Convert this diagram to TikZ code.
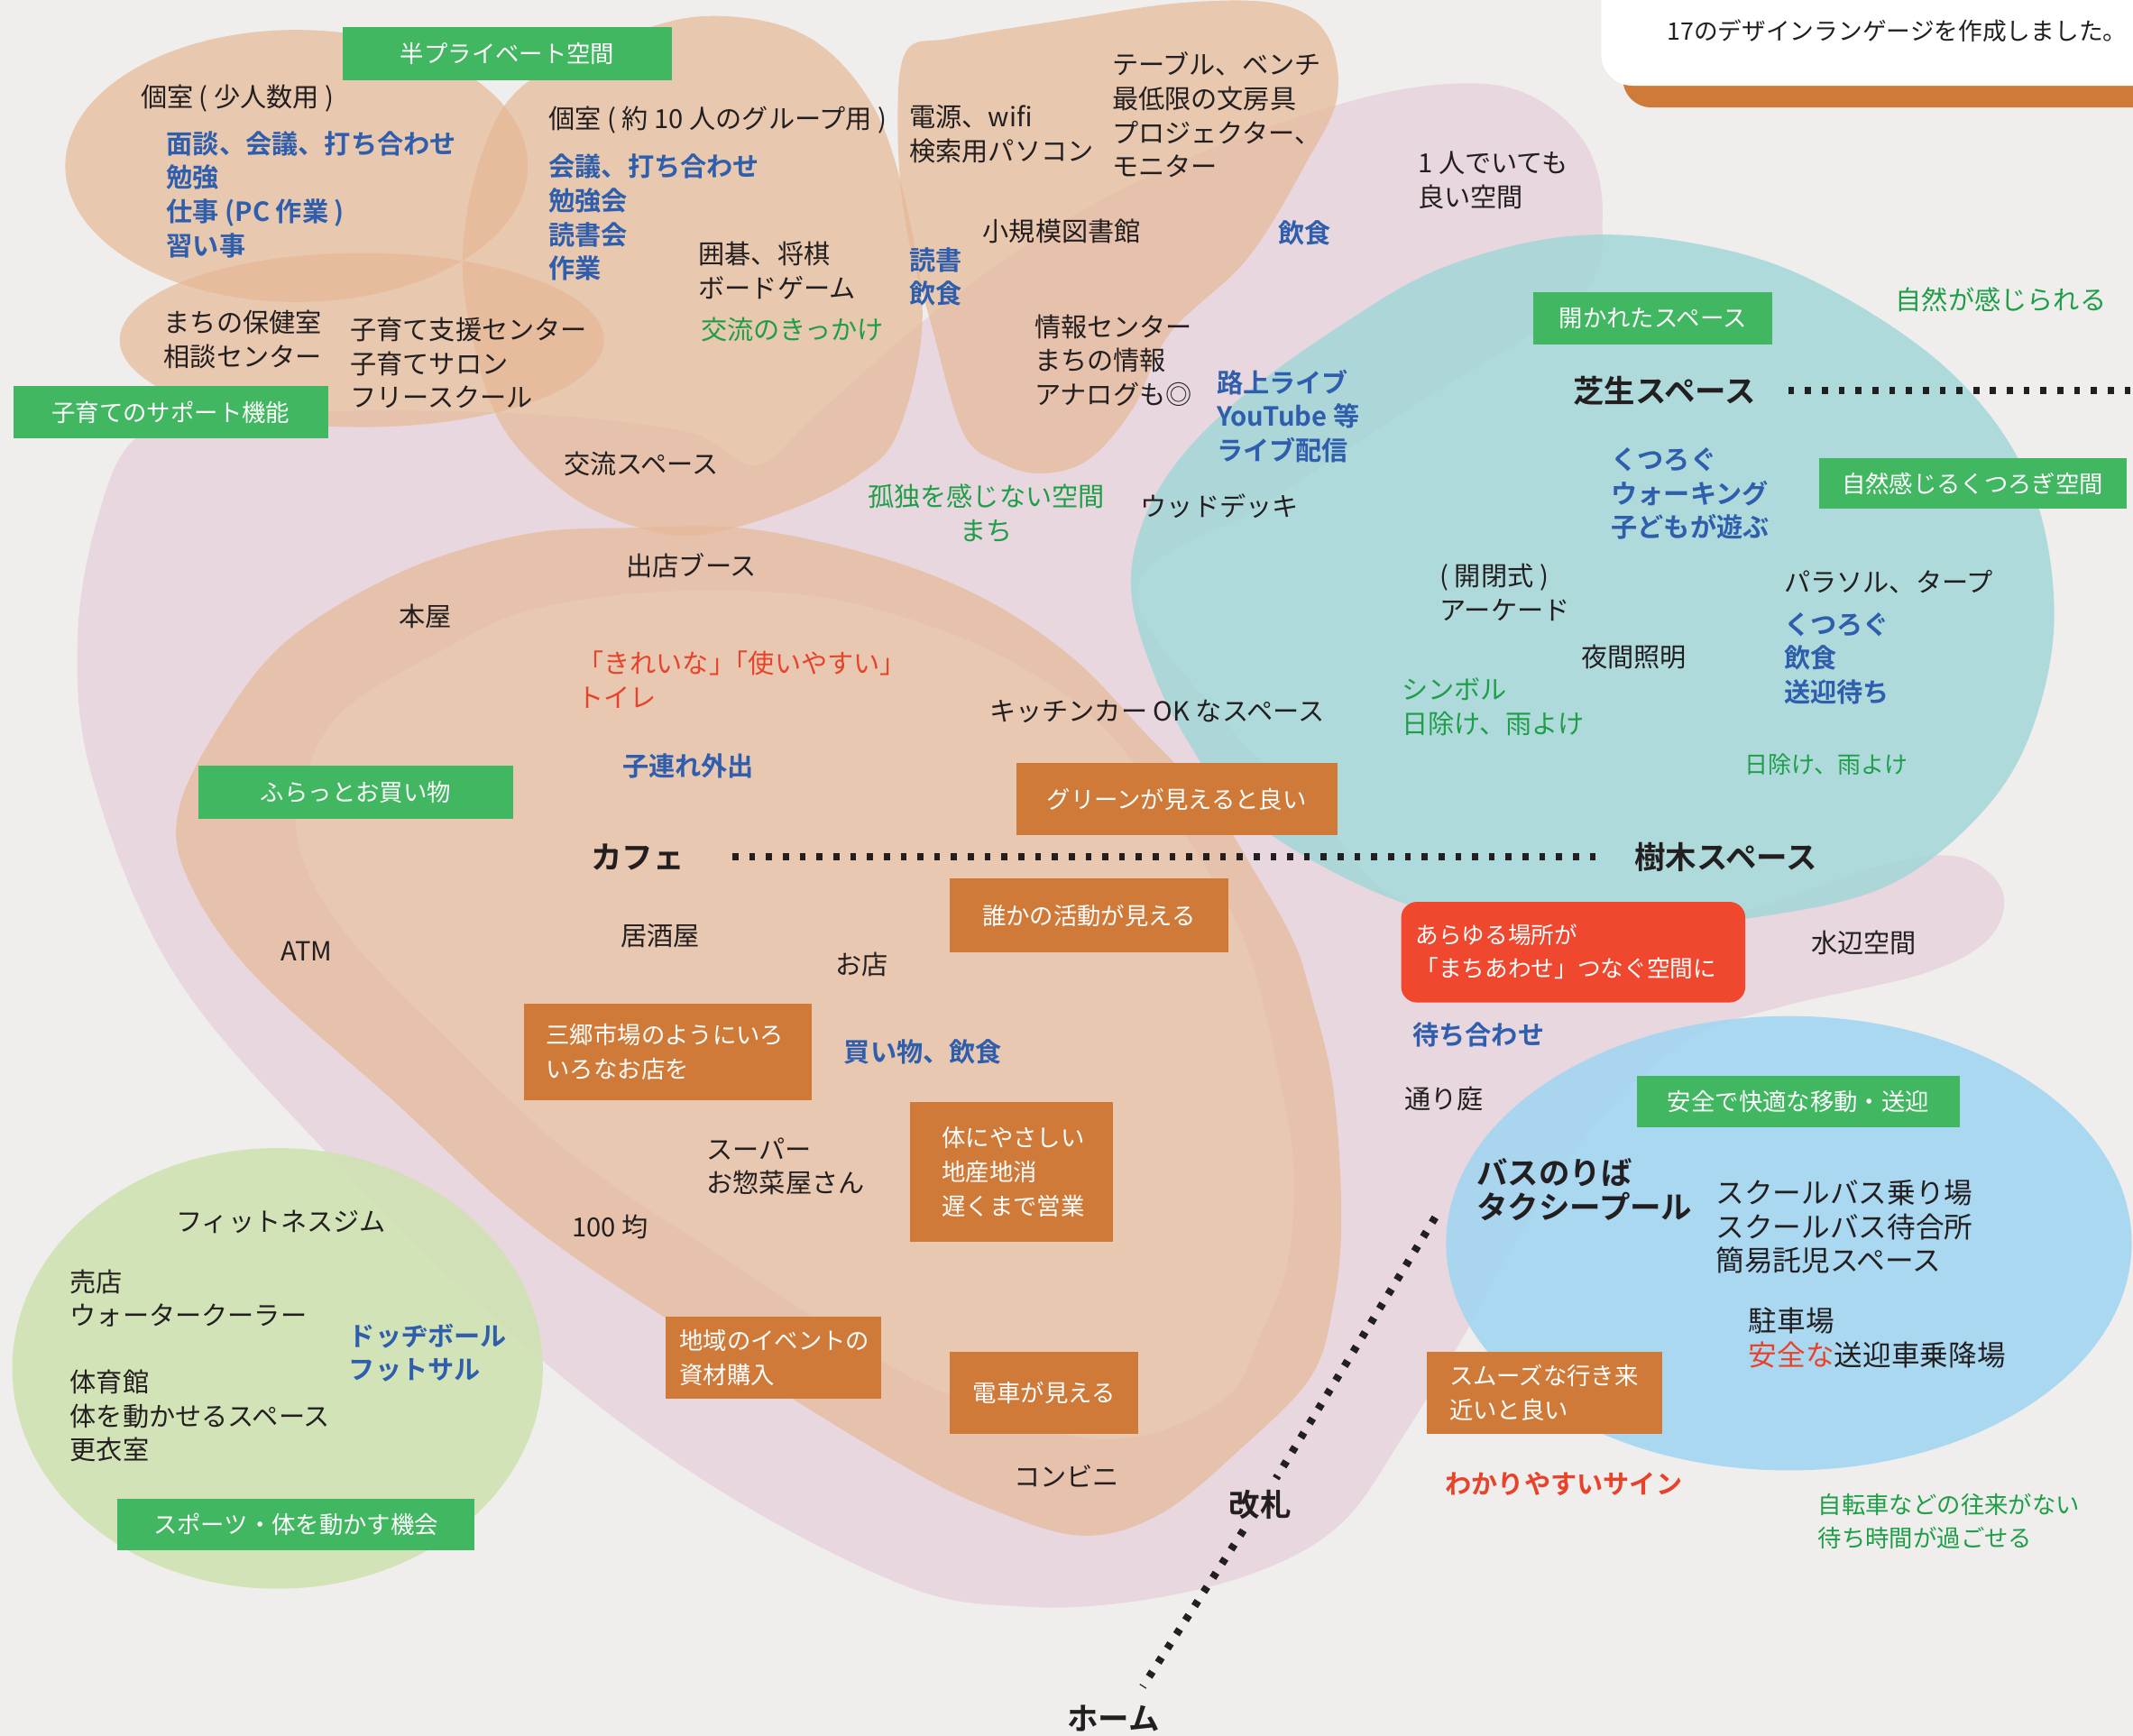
\documentclass[tikz,border=0pt]{standalone}
\usepackage{fontspec}
\setmainfont{Noto Sans CJK JP}[BoldFont={Noto Sans CJK JP Bold}]
\usetikzlibrary{calc}
\definecolor{bgcol}{HTML}{EFEEEC}
\definecolor{pinkfill}{HTML}{E8D7DF}
\definecolor{orangefill}{HTML}{E6B896}
\definecolor{orangeinner}{HTML}{E9C8B1}
\definecolor{tealfill}{HTML}{9FD6D8}
\definecolor{bluefill}{HTML}{9FD5F2}
\definecolor{limefill}{HTML}{CFE2B0}
\definecolor{boxgreen}{HTML}{40B760}
\definecolor{boxorange}{HTML}{D07A3A}
\definecolor{boxred}{HTML}{EF482F}
\definecolor{ink}{HTML}{231F20}
\definecolor{bluetxt}{HTML}{2F5EAD}
\definecolor{greentxt}{HTML}{1F9E48}
\definecolor{redtxt}{HTML}{E8432A}
\tikzset{
  lbl/.style={anchor=west, inner sep=0pt, align=left, text=ink, font=\fontsize{8.3}{10.7}\selectfont},
  blu/.style={lbl, text=bluetxt, font=\fontsize{8.3}{10.7}\selectfont\bfseries},
  grn/.style={lbl, text=greentxt},
  redlbl/.style={lbl, text=redtxt},
  head/.style={lbl, font=\fontsize{9.8}{10.7}\selectfont\bfseries},
  boxtext/.style={inner sep=0pt, align=left, text=white, font=\fontsize{7.5}{10.7}\selectfont},
  dotline/.style={ink, line width=2.4pt, dash pattern=on 1.9pt off 3.4pt},
  blob/.style={fill=orangefill, fill opacity=0.7}
}
\newcommand{\gcell}[6]{\fill[boxgreen] ( #1 , #2 ) rectangle ( #3 , #4 ); \node[boxtext] (#5) at ($( #1 , #2 )!0.5!( #3 , #4 )$) {#6};}
\newcommand{\ocell}[6]{\fill[boxorange] ( #1 , #2 ) rectangle ( #3 , #4 ); \node[boxtext] (#5) at ($( #1 , #2 )!0.5!( #3 , #4 )$) {#6};}
\newcommand{\ocellL}[7]{\fill[boxorange] ( #1 , #2 ) rectangle ( #3 , #4 ); \node[boxtext, anchor=west] (#5) at ( #6 , {(#2+#4)/2} ) {#7};}
\begin{document}
\begin{tikzpicture}[x=0.015083cm, y=-0.015083cm]
        \useasboundingbox (0,0) rectangle (1568,1276);
        \fill[bgcol] (0,0) rectangle (1568,1276);

        % pink town area
        \fill[pinkfill] plot[smooth cycle, tension=0.6] coordinates {
          (100,322) (160,308) (260,302) (400,305) (507,318) (556,342) (600,305)
          (680,235) (770,170) (870,118) (980,78) (1060,62) (1120,68) (1165,105)
          (1178,160) (1160,220) (1040,298) (929,371) (836,432) (900,530) (970,600)
          (1030,662) (1150,690) (1270,673) (1380,637) (1440,630) (1472,655)
          (1462,690) (1413,716) (1310,740) (1240,765) (1170,830) (1110,920)
          (1079,977) (1032,1055) (986,1120) (923,1156) (836,1177) (750,1181)
          (663,1165) (520,1090) (381,985) (237,844) (127,714) (68,572) (57,470) (72,380)};

        % shopping area
        \fill[blob] plot[smooth cycle, tension=0.6] coordinates {
          (465,388) (552,389) (651,411) (727,442) (790,485) (841,538) (890,590)
          (923,642) (950,690) (963,729) (980,800) (986,895) (980,960) (963,1013)
          (911,1066) (853,1113) (796,1129) (730,1110) (663,1077) (530,995)
          (393,903) (290,810) (186,716) (139,648) (131,597) (161,534) (211,471)
          (296,420) (385,393)};
        \fill[orangeinner] plot[smooth cycle, tension=0.6] coordinates {
          (528,434) (610,440) (689,462) (750,490) (803,527) (845,575) (879,626)
          (905,670) (923,716) (940,790) (951,859) (946,930) (925,985) (905,1024)
          (853,1052) (796,1057) (730,1035) (663,1009) (540,930) (423,851)
          (330,765) (254,686) (220,623) (224,572) (254,521) (338,471) (385,450) (450,438)};

        % rooms
        \fill[blob] (218,122) ellipse [x radius=170, y radius=100];
        \fill[blob] (266,250) ellipse [x radius=178, y radius=64];
        \fill[blob] plot[smooth cycle, tension=0.6] coordinates {
          (340,192) (350,260) (372,318) (420,365) (470,388) (516,393) (580,375)
          (630,350) (660,318) (678,237) (666,150) (640,75) (590,25) (516,12)
          (444,33) (381,66) (352,120)};
        \fill[blob] plot[smooth cycle, tension=0.6] coordinates {
          (666,38) (660,95) (666,166) (685,240) (708,318) (735,340) (765,348)
          (800,338) (833,300) (860,245) (917,190) (960,120) (983,71) (975,25)
          (940,3) (870,2) (780,15) (700,28)};

        % lawn
        \fill[tealfill, fill opacity=0.8] plot[smooth cycle, tension=0.6] coordinates {
          (1150,174) (1060,197) (989,237) (915,290) (865,340) (838,390) (832,440)
          (850,500) (875,548) (905,590) (960,630) (1032,664) (1100,678) (1200,681)
          (1300,673) (1390,650) (1459,595) (1496,530) (1510,445) (1490,350)
          (1430,270) (1330,205) (1240,178)};
        % bus
        \fill[bluefill, fill opacity=0.85] (1315,914) ellipse [x radius=252, y radius=167];
        % sports
        \fill[limefill, fill opacity=0.85] (204,1006) ellipse [x radius=195, y radius=162];

        % note box
        \fill[boxorange, rounded corners=9pt] (1193,-40) rectangle (1600,79);
        \fill[white, rounded corners=10pt] (1177,-40) rectangle (1600,63);
        \node[lbl, font=\fontsize{7.6}{10}\selectfont] (designLang) at (1225,23) {17のデザインランゲージを作成しました。};

        % green labels
        \gcell{252}{20}{494}{59}{semiPrivate}{半プライベート空間}
        \gcell{10}{284}{241}{322}{kosodateSupport}{子育てのサポート機能}
        \gcell{1127}{215}{1303}{253}{hirakareta}{開かれたスペース}
        \gcell{1337}{337}{1563}{374}{shizenKutsurogi}{自然感じるくつろぎ空間}
        \gcell{146}{563}{377}{602}{furatto}{ふらっとお買い物}
        \gcell{86}{1102}{349}{1140}{sports}{スポーツ・体を動かす機会}
        \gcell{1203}{791}{1441}{829}{anzen}{安全で快適な移動・送迎}

        % orange labels
        \ocell{747}{561}{983}{614}{greenMieru}{グリーンが見えると良い}
        \ocell{698}{646}{903}{700}{katsudo}{誰かの活動が見える}
        \ocellL{385}{738}{597}{809}{misato}{401}{三郷市場のようにいろ\\いろなお店を}
        \ocellL{669}{810}{818}{913}{karada}{692}{体にやさしい\\地産地消\\遅くまで営業}
        \ocellL{489}{968}{648}{1028}{chiiki}{499}{地域のイベントの\\資材購入}
        \ocell{698}{994}{837}{1054}{densha}{電車が見える}
        \ocellL{1049}{994}{1222}{1054}{smooth}{1065}{スムーズな行き来\\近いと良い}

        % red label
        \fill[boxred, rounded corners=5pt] (1030,663) rectangle (1283,737);
        \node[boxtext, anchor=west, font=\fontsize{7.3}{10.7}\selectfont] (machiawaseBox) at (1040,699.5) {あらゆる場所が\\「まちあわせ」つなぐ空間に};

        % places
        \node[lbl] (koshitsuSmall) at (103,72) {個室 ( 少人数用 )};
        \node[lbl] (koshitsuGroup) at (403,88) {個室 ( 約 10 人のグループ用 )};
        \node[lbl] (dengen) at (668,98.5) {電源、wifi\\検索用パソコン};
        \node[lbl] (table) at (817,84.5) {テーブル、ベンチ\\最低限の文房具\\プロジェクター、\\モニター};
        \node[lbl] (hitori) at (1042,132.5) {1 人でいても\\良い空間};
        \node[lbl] (toshokan) at (722,170) {小規模図書館};
        \node[lbl] (igo) at (513,199) {囲碁、将棋\\ボードゲーム};
        \node[lbl] (joho) at (760,265) {情報センター\\まちの情報\\アナログも◎};
        \node[lbl] (hokenshitsu) at (120,249.5) {まちの保健室\\相談センター};
        \node[lbl] (kosodate) at (257,267) {子育て支援センター\\子育てサロン\\フリースクール};
        \node[lbl] (koryu) at (414,341) {交流スペース};
        \node[lbl] (wooddeck) at (838,372) {ウッドデッキ};
        \node[lbl] (shutten) at (460,416) {出店ブース};
        \node[lbl] (honya) at (293,453) {本屋};
        \node[lbl] (kitchen) at (727,523) {キッチンカー OK なスペース};
        \node[lbl] (arcade) at (1058,435.5) {( 開閉式 )\\アーケード};
        \node[lbl] (parasol) at (1311,428) {パラソル、タープ};
        \node[lbl] (yakan) at (1162,483) {夜間照明};
        \node[lbl] (atm) at (206,699) {ATM};
        \node[lbl] (izakaya) at (456,688) {居酒屋};
        \node[lbl] (omise) at (614,709) {お店};
        \node[lbl] (mizube) at (1331,693) {水辺空間};
        \node[lbl] (toriniwa) at (1032,808) {通り庭};
        \node[lbl] (super) at (519,857.5) {スーパー\\お惣菜屋さん};
        \node[lbl] (hyakkin) at (420,902) {100 均};
        \node[lbl] (fitness) at (129,898) {フィットネスジム};
        \node[lbl] (baiten) at (51,954.5) {売店\\ウォータークーラー};
        \node[lbl] (taiikukan) at (51,1041) {体育館\\体を動かせるスペース\\更衣室};
        \node[lbl, font=\fontsize{9}{10.7}\selectfont] (schoolbus) at (1261,902) {スクールバス乗り場\\スクールバス待合所\\簡易託児スペース};
        \node[lbl, font=\fontsize{9}{10.7}\selectfont] (chushajo) at (1285,983.5) {駐車場\\{\color{redtxt}安全な}送迎車乗降場};
        \node[lbl] (konbini) at (745,1085) {コンビニ};

        % headings
        \node[head] (shiba) at (1156,287) {芝生スペース};
        \node[head] (jumoku) at (1201,630) {樹木スペース};
        \node[head] (cafe) at (434,630) {カフェ};
        \node[head] (busnoriba) at (1085,874.5) {バスのりば\\タクシープール};
        \node[head] (kaisatsu) at (903,1106) {改札};
        \node[head] (home) at (784,1263) {ホーム};

        % activities
        \node[blu] (mendan) at (122,143) {面談、会議、打ち合わせ\\勉強\\仕事 (PC 作業 )\\習い事};
        \node[blu] (kaigi) at (403,160) {会議、打ち合わせ\\勉強会\\読書会\\作業};
        \node[blu] (dokusho) at (668,203.5) {読書\\飲食};
        \node[blu] (inshoku) at (939,171) {飲食};
        \node[blu] (rojo) at (894,306) {路上ライブ\\YouTube 等\\ライブ配信};
        \node[blu] (kutsurogu) at (1184,363) {くつろぐ\\ウォーキング\\子どもが遊ぶ};
        \node[blu] (kutsuroguB) at (1311,484) {くつろぐ\\飲食\\送迎待ち};
        \node[blu] (kozure) at (457,563) {子連れ外出};
        \node[blu] (kaimono) at (620,773) {買い物、飲食};
        \node[blu] (machiawase) at (1038,761) {待ち合わせ};
        \node[blu] (dodge) at (256,994.5) {ドッヂボール\\フットサル};

        % qualities
        \node[grn] (kikkake) at (515,242) {交流のきっかけ};
        \node[grn] (shizen) at (1393,220) {自然が感じられる};
        \node[grn, anchor=center, align=center] (kodoku) at (725,377.5) {孤独を感じない空間\\まち};
        \node[grn] (symbol) at (1030,519.5) {シンボル\\日除け、雨よけ};
        \node[grn, font=\fontsize{7.4}{10.7}\selectfont] (hiyoke) at (1282,562) {日除け、雨よけ};
        \node[grn, font=\fontsize{7.5}{10.7}\selectfont] (jitensha) at (1336,1118.5) {自転車などの往来がない\\待ち時間が過ごせる};
        \node[redlbl] (toilet) at (424,499.5) {「きれいな」\kern-0.5em「使いやすい」\\トイレ};
        \node[redlbl, font=\fontsize{8.3}{10.7}\selectfont\bfseries] (sign) at (1062,1091) {わかりやすいサイン};

        % dotted lines
        \coordinate (shibaEnd) at (1568,287);
        \coordinate (gateTop) at (1055,895);
        \coordinate (homeEnd) at (840,1240);
        \draw[dotline, shorten <=10pt] (shiba) -- (shibaEnd);
        \draw[dotline, shorten <=15pt, shorten >=9pt] (cafe) -- (jumoku);
        \draw[dotline, shorten >=4pt] (gateTop) -- (kaisatsu);
        \draw[dotline, shorten <=4pt] (kaisatsu) -- (homeEnd);
    \end{tikzpicture}
\end{document}
